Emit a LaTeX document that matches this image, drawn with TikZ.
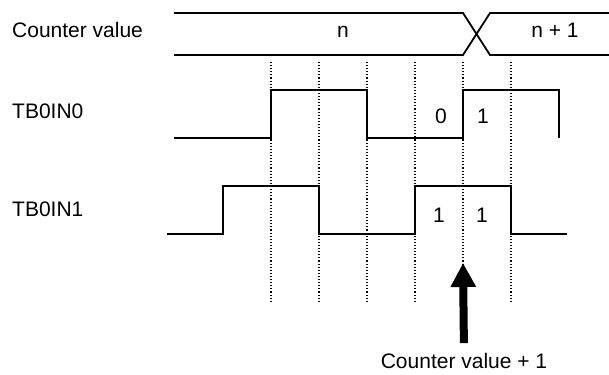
\documentclass[tikz,border=0pt]{standalone}
\usepackage{fontspec}
\setmainfont{Liberation Sans}
\usetikzlibrary{arrows.meta}

\begin{document}
\begin{tikzpicture}[
  x=1pt,y=-1pt,
  signal/.style={line width=1.8pt,line join=miter},
  guide/.style={line width=1.1pt,dotted},
  caption/.style={anchor=base west,inner sep=0pt,font=\fontsize{21}{24}\selectfont},
  value/.style={anchor=base,inner sep=0pt,font=\fontsize{21}{24}\selectfont},
  bigarrow/.style={line width=8pt,-{Triangle[width=24pt,length=24pt]}}
]
  \useasboundingbox (0,0) rectangle (609,374);
  \node[caption] (cnt) at (12,38) {Counter value};
  \node[caption] (in0) at (12,119) {TB0IN0};
  \node[caption] (in1) at (12,216) {TB0IN1};
  \foreach \x in {271,319,367,415,463,511} \draw[guide] (\x,62) -- (\x,302);
  \draw[signal] (174,13) -- (463,13) -- (490,55) -- (609,55);
  \draw[signal] (174,55) -- (463,55) -- (490,13) -- (609,13);
  \node[value] (oldval) at (343,38) {n};
  \node[value] (newval) at (555,38) {n + 1};
  \draw[signal] (174,138) -- (271,138) -- (271,90) -- (367,90) -- (367,138) -- (463,138) -- (463,90) -- (559,90) -- (559,138);
  \draw[signal] (167,234) -- (223,234) -- (223,186) -- (319,186) -- (319,234) -- (415,234) -- (415,186) -- (511,186) -- (511,234) -- (567,234);
  \node[value] (a0) at (441,124) {0};
  \node[value] (a1) at (483,124) {1};
  \node[value] (b0) at (439,222) {1};
  \node[value] (b1) at (482,222) {1};
  \coordinate (tip) at (463,263);
  \node[value] (note) at (464,368) {Counter value + 1};
  \draw[bigarrow,shorten <=9.5pt] (note.north) -- (tip);
\end{tikzpicture}
\end{document}
